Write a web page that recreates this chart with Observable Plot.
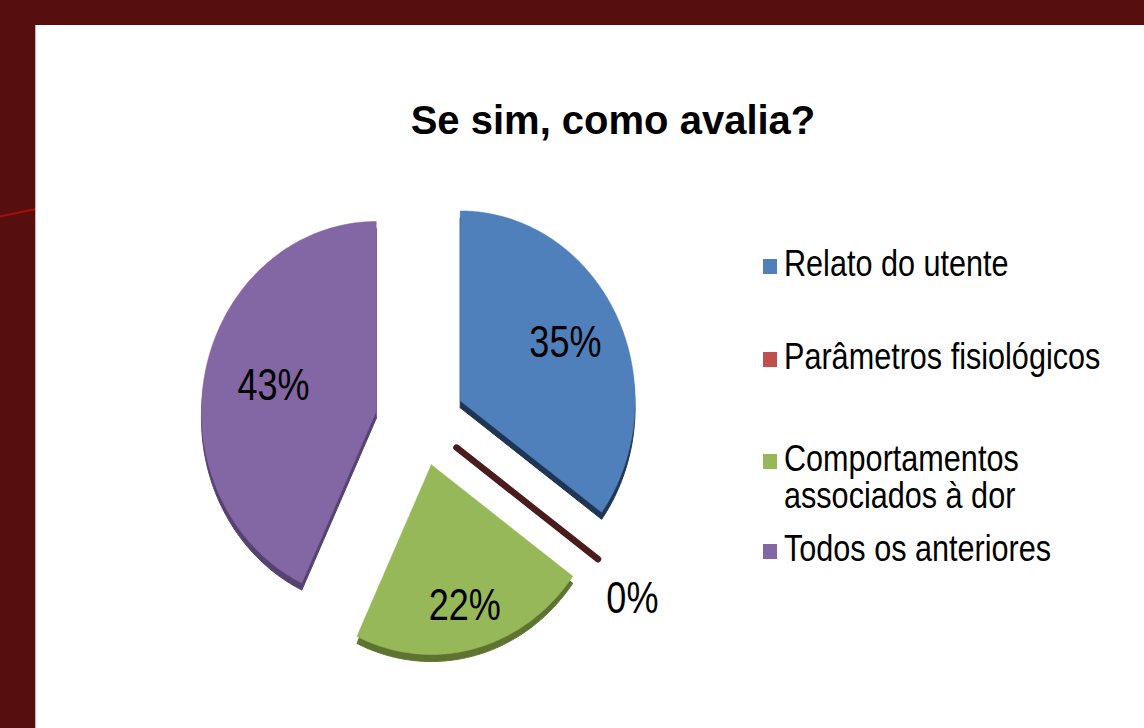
<!DOCTYPE html>
<html>
<head>
<meta charset="utf-8">
<script src="https://cdn.jsdelivr.net/npm/d3@7"></script>
<script src="https://cdn.jsdelivr.net/npm/@observablehq/plot@0.6"></script>
<style>
  html, body { margin: 0; padding: 0; }
  body { width: 1144px; height: 728px; overflow: hidden; position: relative; background: #570e0e; font-family: "Liberation Sans", Arial, sans-serif; }
  #deco { position: absolute; left: -2px; top: 216px; width: 40px; height: 2px; background: #a80c0c; transform: rotate(-12deg); transform-origin: left center; }
  #panel { position: absolute; left: 35px; top: 25px; width: 1109px; height: 703px; background: #fff; border-left: 1px solid #d2b0b0; box-sizing: border-box; }
  #title { position: absolute; left: 0; width: 1154px; top: 75px; text-align: center; font: bold 40px/40px "Liberation Sans", Arial, sans-serif; color: #000; white-space: nowrap; }
  #chart { position: absolute; left: 0; top: 0; }
  .lg-sq { position: absolute; width: 14px; height: 15px; }
  .lg-tx { position: absolute; width: 400px; font: 36px/37px "Liberation Sans", Arial, sans-serif; color: #000; transform: scale(0.85, 1); transform-origin: left top; }
</style>
</head>
<body>
<div id="deco"></div>
<div id="panel">
  <div id="title"></div>
  <div id="chart"></div>
  <div id="legend"></div>
</div>
<script>
// ---- data ----
const title = "Se sim, como avalia?";
const categories = ["Relato do utente", "Parâmetros fisiológicos", "Comportamentos associados à dor", "Todos os anteriores"];
const values = [35, 0, 22, 43];
const labels = ["35%", "0%", "22%", "43%"];
const faceColors = ["#4f80bb", "#c0504d", "#97b858", "#8366a4"];
const sideColors = ["#1f3553", "#4a1c1c", "#5d7331", "#55426f"];

// ---- layout ----
const W = 1109, H = 703;
const cx = 384, cy = 396, rx = 175, ry = 190, explode = 45, depth = 7;
const labelScaleX = 0.82;

document.getElementById("title").textContent = title;

const arcs = d3.pie().sort(null).value(d => d)(values);

const marks = [];
const labelRows = [];
arcs.forEach((a, i) => {
  const s = a.startAngle, e = a.endAngle, mid = (s + e) / 2;
  const ox = cx + explode * Math.sin(mid), oy = cy - explode * Math.cos(mid);
  if (e - s > 1e-9) {
    const n = Math.max(2, Math.ceil((e - s) / 0.01));
    const pts = [[ox, oy]];
    for (let j = 0; j <= n; j++) {
      const t = s + (e - s) * j / n;
      pts.push([ox + rx * Math.sin(t), oy - ry * Math.cos(t)]);
    }
    pts.push([ox, oy]);
    const side = pts.map(([x, y]) => [x, y + depth]);
    marks.push(Plot.line(side, {x: d => d[0], y: d => d[1], fill: sideColors[i], stroke: sideColors[i], strokeWidth: 1, curve: "linear"}));
    marks.push(Plot.line(pts, {x: d => d[0], y: d => d[1], fill: faceColors[i], stroke: faceColors[i], strokeWidth: 0.5, curve: "linear"}));
    const th = e - s;
    const k = 1.25 * 4 * Math.sin(th / 2) / (3 * th);
    labelRows.push({x: ox + k * rx * Math.sin(mid), y: oy - k * ry * Math.cos(mid), text: labels[i]});
  } else {
    const ex = cx + explode * Math.sin(s), ey = cy - explode * Math.cos(s);
    const seg = [[ex, ey], [ex + rx * Math.sin(s), ey - ry * Math.cos(s)]];
    marks.push(Plot.line(seg, {x: d => d[0], y: d => d[1], stroke: sideColors[i], strokeWidth: 6.5}));
    const k = 1.3;
    labelRows.push({x: ex + k * rx * Math.sin(s) - 8, y: ey - k * ry * Math.cos(s) + 6, text: labels[i]});
  }
});
marks.push(Plot.text(labelRows, {x: "x", y: "y", text: "text", fill: "#000", fontSize: 44, fontFamily: "Liberation Sans, Arial, sans-serif", className: "pie-label"}));

const chart = Plot.plot({
  width: W, height: H,
  margin: 0,
  x: {domain: [0, W], range: [0, W], axis: null},
  y: {domain: [0, H], range: [0, H], axis: null},
  style: {background: "transparent", overflow: "visible"},
  marks
});
document.getElementById("chart").appendChild(chart);

// horizontally condense the percentage labels (narrow face look)
chart.querySelectorAll("g.pie-label text, .pie-label text").forEach(t => {
  const b = t.getBBox();
  const bx = b.x + b.width / 2;
  const prev = t.getAttribute("transform") || "";
  t.setAttribute("transform", `${prev} translate(${bx},0) scale(${labelScaleX},1) translate(${-bx},0)`.trim());
});

// ---- legend ----
const legend = document.getElementById("legend");
const legendBaselines = [250, 343, 445, 535]; // panel coords of first-line baselines
categories.forEach((c, i) => {
  const sq = document.createElement("div");
  sq.className = "lg-sq";
  sq.style.left = "727px";
  sq.style.top = (legendBaselines[i] - 16) + "px";
  sq.style.background = faceColors[i];
  legend.appendChild(sq);
  const tx = document.createElement("div");
  tx.className = "lg-tx";
  tx.style.left = "748px";
  tx.style.top = (legendBaselines[i] - 30.5) + "px";
  tx.textContent = c;
  legend.appendChild(tx);
});
</script>
</body>
</html>
